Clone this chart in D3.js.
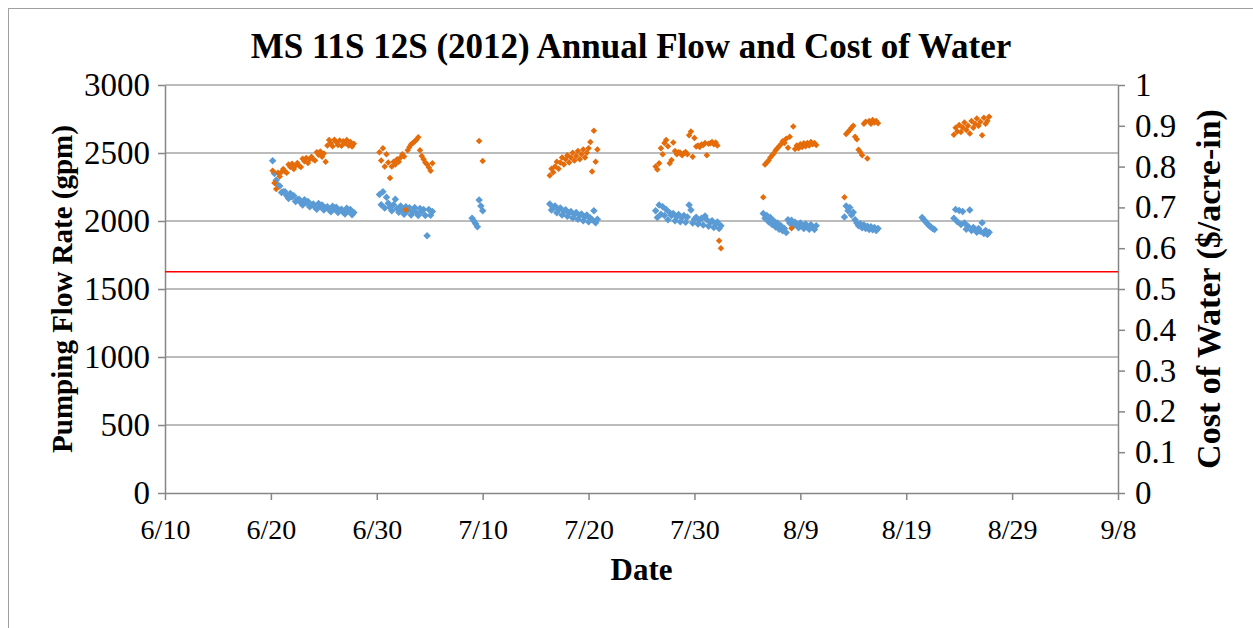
<!DOCTYPE html>
<html>
<head>
<meta charset="utf-8">
<script src="https://cdn.jsdelivr.net/npm/d3@7"></script>
<style>
body { margin: 0; background: #fff; }
text { font-family: "Liberation Serif", "Times New Roman", serif; fill: #000; }
</style>
</head>
<body>
<div id="chart"></div>
<script>
// start of each pumping run, readings every 4 hours
var runStarts = ["2012-06-20 04:00", "2012-06-30 06:00", "2012-07-09 00:00", "2012-07-16 08:00",
  "2012-07-26 08:00", "2012-08-05 12:00", "2012-08-13 04:00", "2012-08-20 12:00", "2012-08-23 12:00"];
var stepHours = 4;

// pumping flow rate (gpm)
var flowRuns = [
  [2443, 2350, 2300, 2262, 2258, 2210, 2215, 2215, 2185, 2165, 2202, 2177, 2185, 2143, 2156, 2160, 2135, 2118, 2157, 2134,
   2144, 2104, 2118, 2125, 2102, 2087, 2128, 2107, 2118, 2080, 2096, 2104, 2082, 2068, 2109, 2089, 2101, 2063, 2079, 2087,
   2065, 2051, 2093, 2073, 2085, 2046, 2062],
  [2195, 2120, 2215, 2095, 2175, 2130, 2100, 2075, 2120, 2160, 2090, 2065, 2110, 2080, 2050, 2105, 2075, 2098, 2045, 2070,
   2100, 2060, 2040, 2092, 2068, 2085, 2040, 1892, 2085, 2042, 2070],
  [2020, 2000, 1980, 1958, 2155, 2110, 2075],
  [2125, 2080, 2100, 2110, 2060, 2085, 2095, 2045, 2070, 2082, 2035, 2058, 2070, 2022, 2048, 2062, 2012, 2040, 2052, 2002,
   2030, 2045, 1995, 2022, 2010, 2076, 1988, 2012],
  [2075, 2025, 2118, 2050, 2105, 2040, 2085, 2010, 2060, 2040, 2055, 2002, 2030, 2048, 1995, 2025, 2040, 1990, 2030, 2118,
   2081, 1985, 2012, 2028, 1978, 2005, 2020, 1970, 2037, 2010, 1962, 1990, 2002, 1952, 1978, 1992, 1945, 1965],
  [2056, 2020, 2040, 1995, 2025, 1975, 2000, 1955, 1985, 1940, 1965, 1928, 1945, 1915, 2010, 1985, 2005, 1965, 1990, 1975,
   1950, 1985, 1962, 1945, 1978, 1958, 1940, 1972, 1952, 1938, 1965],
  [2030, 2110, 2075, 2100, 2045, 2065, 2010, 1985, 1965, 1980, 1950, 1970, 1945, 1962, 1938, 1958, 1935, 1952, 1930, 1945],
  [2025, 2010, 1995, 1980, 1965, 1955, 1945, 1938],
  [2020, 2085, 1995, 2078, 1975, 2070, 1985, 1940, 1962, 2081, 1930, 1952, 1940, 1918, 1945, 1925, 1987, 1908, 1930, 1900, 1918]
];

// cost of water ($/acre-in), null where no value was logged
var costRuns = [
  [0.790, 0.760, 0.745, 0.785, 0.776, 0.787, 0.794, 0.788, 0.785, 0.805, 0.799, 0.807, 0.794, 0.803, 0.809, 0.802, 0.799, 0.819, 0.813, 0.821,
   0.809, 0.818, 0.824, 0.818, 0.815, 0.835, 0.829, 0.837, 0.824, 0.832, 0.812, 0.852, 0.865, 0.858, 0.850, 0.866, 0.860, 0.853, 0.864, 0.851,
   0.862, 0.857, 0.865, 0.852, 0.860, 0.849, 0.856],
  [0.835, 0.815, 0.845, 0.800, 0.830, 0.810, 0.772, 0.800, 0.812, 0.805, 0.818, 0.812, 0.822, 0.830, 0.825, 0.694, 0.840, 0.848, 0.855, 0.858,
   0.862, 0.866, 0.872, 0.840, 0.826, 0.818, 0.810, 0.805, 0.798, 0.790, 0.808],
  [null, null, null, null, 0.863, null, 0.814],
  [0.778, 0.795, 0.786, 0.800, 0.812, 0.795, 0.810, 0.822, 0.805, 0.818, 0.828, 0.810, 0.822, 0.834, 0.815, 0.826, 0.838, 0.818, 0.830, 0.842,
   0.822, 0.834, 0.845, 0.860, 0.788, 0.888, 0.812, 0.842],
  [0.800, 0.793, 0.808, 0.845, 0.830, 0.858, 0.865, 0.850, 0.808, 0.816, 0.859, 0.838, 0.830, 0.835, 0.834, 0.828, 0.833, 0.836, 0.830, 0.877,
   0.886, 0.824, 0.870, 0.849, 0.852, 0.848, 0.854, 0.853, 0.858, 0.828, 0.856, 0.857, 0.860, 0.855, 0.859, 0.852, 0.618, 0.600],
  [0.725, 0.805, 0.810, 0.815, 0.822, 0.828, 0.833, 0.840, 0.845, 0.850, 0.855, 0.862, 0.858, 0.868, 0.846, 0.873, 0.649, 0.898, 0.843, 0.852,
   0.845, 0.855, 0.848, 0.857, 0.850, 0.858, 0.852, 0.860, 0.855, 0.858, 0.853],
  [0.725, 0.880, 0.885, 0.890, 0.895, 0.900, 0.873, 0.867, 0.841, 0.835, 0.828, 0.905, 0.910, 0.820, 0.912, 0.905, 0.914, 0.908, 0.912, 0.906],
  [null, null, null, null, null, null, null, null],
  [0.878, 0.895, 0.886, 0.902, 0.885, 0.896, 0.908, 0.890, 0.900, 0.881, 0.912, 0.895, 0.905, 0.918, 0.900, 0.910, 0.877, 0.920, 0.905, 0.912, 0.922]
];

var costLimit = 0.542; // red reference line
var flowTicks = [0, 500, 1000, 1500, 2000, 2500, 3000];
var costTicks = [0, 0.1, 0.2, 0.3, 0.4, 0.5, 0.6, 0.7, 0.8, 0.9, 1];
var dateTicks = ["6/10", "6/20", "6/30", "7/10", "7/20", "7/30", "8/9", "8/19", "8/29", "9/8"];

var w = 1253, h = 628;
var m = {top: 85, right: 135, bottom: 135, left: 165};
var width = w - m.left - m.right,
    height = h - m.top - m.bottom;

var svg = d3.select("#chart").append("svg")
  .attr("width", w)
  .attr("height", h);

// chart area border
svg.append("rect")
  .attr("x", 8.5).attr("y", 8.5)
  .attr("width", w + 10).attr("height", h + 10)
  .attr("fill", "none")
  .attr("stroke", "#a0a0a0")
  .attr("stroke-width", 1);

var parseRun = d3.timeParse("%Y-%m-%d %H:%M");
var parseTick = d3.timeParse("%Y/%m/%d");
var tickDates = dateTicks.map(function(s) { return parseTick("2012/" + s); });

var flowPts = [], costPts = [];
runStarts.forEach(function(s, r) {
  var t0 = parseRun(s);
  flowRuns[r].forEach(function(v, i) {
    var t = d3.timeHour.offset(t0, i * stepHours);
    if (v != null) flowPts.push({date: t, value: v});
    var c = costRuns[r][i];
    if (c != null) costPts.push({date: t, value: c});
  });
});

var x = d3.scaleTime().domain([tickDates[0], tickDates[tickDates.length - 1]]).range([0, width]);
var yL = d3.scaleLinear().domain([0, 3000]).range([height, 0]);
var yR = d3.scaleLinear().domain([0, 1]).range([height, 0]);

var g = svg.append("g").attr("transform", "translate(" + m.left + "," + m.top + ")");

// gridlines
g.append("g").selectAll("line")
  .data(flowTicks.filter(function(d) { return d > 0; }))
  .enter().append("line")
  .attr("x1", 0).attr("x2", width)
  .attr("y1", function(d) { return yL(d); })
  .attr("y2", function(d) { return yL(d); })
  .attr("stroke", "#a6a6a6")
  .attr("stroke-width", 1.5);

// axes
var xAxis = g.append("g")
  .attr("transform", "translate(0," + height + ")")
  .call(d3.axisBottom(x).tickValues(tickDates).tickFormat(d3.timeFormat("%-m/%-d"))
    .tickSize(7).tickSizeOuter(0).tickPadding(19));

var leftAxis = g.append("g")
  .call(d3.axisLeft(yL).tickValues(flowTicks).tickFormat(d3.format("d"))
    .tickSize(7).tickSizeOuter(0).tickPadding(8));

var rightAxis = g.append("g")
  .attr("transform", "translate(" + width + ",0)")
  .call(d3.axisRight(yR).tickValues(costTicks).tickFormat(function(d) { return d3.format("")(+d.toFixed(1)); })
    .tickSize(7).tickSizeOuter(0).tickPadding(10));

[xAxis, leftAxis, rightAxis].forEach(function(a) {
  a.selectAll("path, line").attr("stroke", "#868686").attr("stroke-width", 1.5);
  a.selectAll("text").attr("fill", "#000");
});
xAxis.selectAll("text").style("font-size", "28px");
leftAxis.selectAll("text").style("font-size", "33px");
rightAxis.selectAll("text").style("font-size", "33px");

// red line
g.append("line")
  .attr("x1", 0).attr("x2", width)
  .attr("y1", yR(costLimit)).attr("y2", yR(costLimit))
  .attr("stroke", "#ff0000")
  .attr("stroke-width", 1.5);

function diamond(r) { return "M0," + (-r) + "L" + r + ",0L0," + r + "L" + (-r) + ",0Z"; }

g.append("g").selectAll("path")
  .data(flowPts)
  .enter().append("path")
  .attr("d", diamond(3.75))
  .attr("transform", function(d) { return "translate(" + x(d.date) + "," + yL(d.value) + ")"; })
  .attr("fill", "#5b9bd5");

g.append("g").selectAll("path")
  .data(costPts)
  .enter().append("path")
  .attr("d", diamond(3.25))
  .attr("transform", function(d) { return "translate(" + x(d.date) + "," + yR(d.value) + ")"; })
  .attr("fill", "#e46c0a");

// titles
svg.append("text")
  .attr("x", 631).attr("y", 58)
  .attr("text-anchor", "middle")
  .style("font-size", "35px").attr("font-weight", "bold")
  .text("MS 11S 12S (2012) Annual Flow and Cost of Water");

svg.append("text")
  .attr("x", m.left + width / 2).attr("y", 580)
  .attr("text-anchor", "middle")
  .style("font-size", "31px").attr("font-weight", "bold")
  .text("Date");

svg.append("text")
  .attr("transform", "translate(72," + (m.top + height / 2) + ") rotate(-90)")
  .attr("text-anchor", "middle")
  .style("font-size", "29px").attr("font-weight", "bold")
  .text("Pumping Flow Rate (gpm)");

svg.append("text")
  .attr("transform", "translate(1220," + (m.top + height / 2) + ") rotate(-90)")
  .attr("text-anchor", "middle")
  .style("font-size", "34px").attr("font-weight", "bold")
  .text("Cost of Water ($/acre-in)");
</script>
</body>
</html>
